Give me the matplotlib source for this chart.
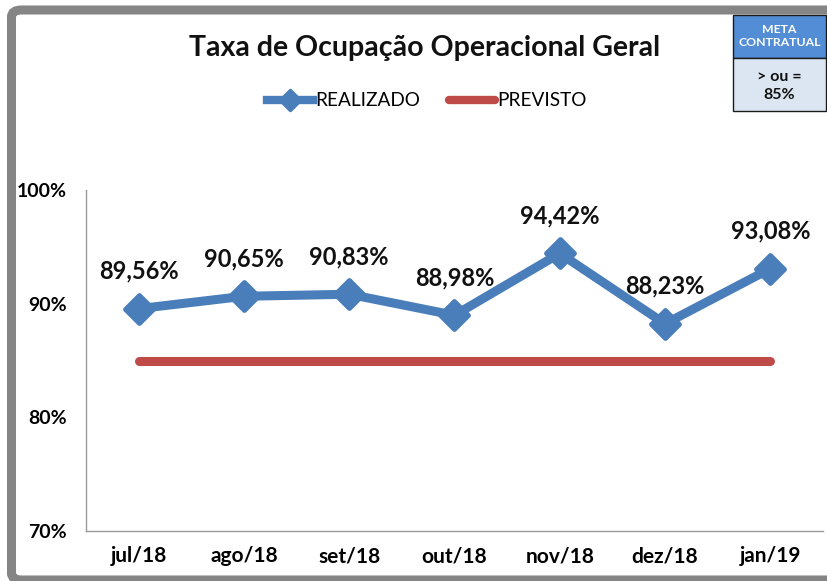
import matplotlib
matplotlib.use("Agg")
import matplotlib.pyplot as plt
from matplotlib.markers import MarkerStyle
from matplotlib.lines import Line2D
from matplotlib.patches import FancyBboxPatch, Rectangle

# ── Data ─────────────────────────────────────────────────────
months    = ["jul/18", "ago/18", "set/18", "out/18", "nov/18", "dez/18", "jan/19"]
realizado = [89.56, 90.65, 90.83, 88.98, 94.42, 88.23, 93.08]
previsto  = [85, 85, 85, 85, 85, 85, 85]
y_ticks   = [70, 80, 90, 100]

TITLE  = "Taxa de Ocupação Operacional Geral"
BLUE   = "#4A7EBB"
RED    = "#BE4B48"
FONT   = "Lato"

plt.rcParams["font.family"] = [FONT, "DejaVu Sans"]

W, H = 828, 581
fig = plt.figure(figsize=(W / 100, H / 100), dpi=100)

# ── Outer gray frame ────────────────────────────────────────
frame = FancyBboxPatch((11.5 / W, 1 - 580 / H), 840 / W, (570) / H,
                       boxstyle="round,pad=0,rounding_size=0.012",
                       transform=fig.transFigure, fill=False,
                       edgecolor="#858585", linewidth=6.5, zorder=0)
fig.patches.append(frame)

# ── Plot area ───────────────────────────────────────────────
ax = fig.add_axes([86 / W, 1 - 531 / H, (823 - 86) / W, (531 - 190) / H])
x = range(len(months))

diamond = MarkerStyle("D", joinstyle="round")
ax.plot(x, previsto, color=RED, linewidth=6.5, solid_capstyle="round", zorder=2)
ax.plot(x, realizado, color=BLUE, linewidth=6.5, solid_joinstyle="round",
        marker=diamond, markersize=14, markeredgewidth=3.5,
        markerfacecolor=BLUE, markeredgecolor=BLUE, zorder=3)

for xi, v in zip(x, realizado):
    ax.annotate(f"{v:.2f}%".replace(".", ","), (xi, v),
                xytext=(0, 27), textcoords="offset points",
                ha="center", va="center", fontsize=17, fontweight="bold",
                color="#111111")

ax.set_xlim(-0.5, len(months) - 0.5)
ax.set_ylim(70, 100)
ax.set_xticks(list(x))
ax.set_xticklabels(months)
ax.set_yticks(y_ticks)
ax.set_yticklabels([f"{t}%" for t in y_ticks])
ax.tick_params(axis="x", length=0, labelsize=15, pad=11)
ax.tick_params(axis="y", length=0, labelsize=14, pad=14)
for lbl in ax.get_xticklabels() + ax.get_yticklabels():
    lbl.set_fontweight("bold")
for side in ["top", "right"]:
    ax.spines[side].set_visible(False)
for side in ["left", "bottom"]:
    ax.spines[side].set_color("#9A9A9A")
    ax.spines[side].set_linewidth(1)

# ── Title & legend ──────────────────────────────────────────
fig.text(425 / W, 1 - 48 / H, TITLE, ha="center", va="center",
         fontsize=20.5, fontweight="bold", color="#111111")

handles = [
    Line2D([], [], color=BLUE, linewidth=6, marker=diamond, markersize=10,
           markeredgewidth=2.5, markerfacecolor=BLUE, markeredgecolor=BLUE),
    Line2D([], [], color=RED, linewidth=6, solid_capstyle="round"),
]
fig.legend(handles, ["REALIZADO", "PREVISTO"], loc="center",
           bbox_to_anchor=(427 / W, 1 - 101 / H), ncol=2, frameon=False,
           fontsize=13.7, handlelength=2.4, handletextpad=0.15,
           columnspacing=1.5)

# ── META CONTRATUAL box ─────────────────────────────────────
bx0, bx1 = 733 / W, 826 / W
top_y0, top_y1 = 1 - 58 / H, 1 - 15 / H
bot_y0 = 1 - 111 / H
fig.patches.append(Rectangle((bx0, top_y0), bx1 - bx0, top_y1 - top_y0,
                             transform=fig.transFigure, facecolor="#538DD5",
                             edgecolor="#1A1A1A", linewidth=1))
fig.patches.append(Rectangle((bx0, bot_y0), bx1 - bx0, top_y0 - bot_y0,
                             transform=fig.transFigure, facecolor="#DCE6F2",
                             edgecolor="#1A1A1A", linewidth=1))
cx = (bx0 + bx1) / 2
fig.text(cx, 1 - 36 / H, "META\nCONTRATUAL", ha="center", va="center",
         fontsize=8.8, fontweight="bold", color="white", linespacing=1.25)
fig.text(cx, 1 - 86 / H, "> ou =\n85%", ha="center", va="center",
         fontsize=11.5, fontweight="bold", color="#111111", linespacing=1.3)

fig.savefig("out.png", dpi=100)
